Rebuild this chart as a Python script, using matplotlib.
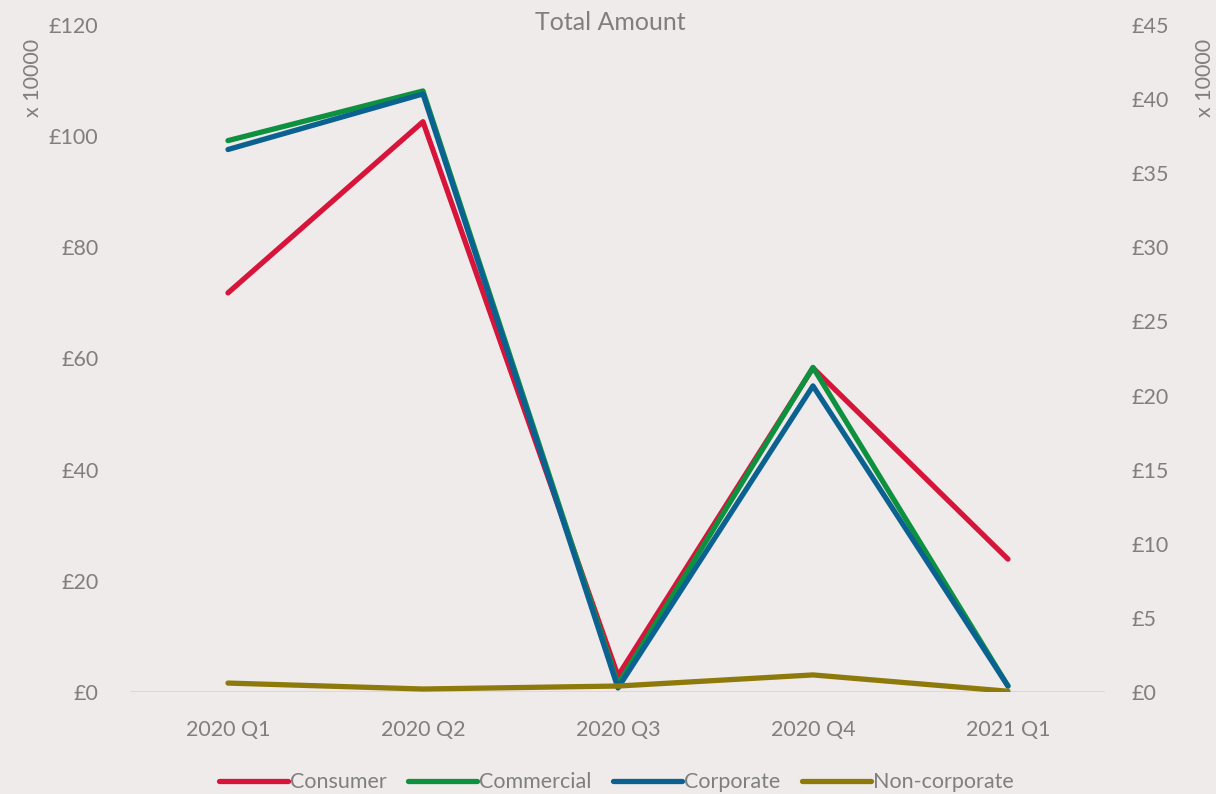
import matplotlib
matplotlib.use("Agg")
import matplotlib.pyplot as plt
from matplotlib.ticker import FuncFormatter

plt.rcParams['font.family'] = ['Lato', 'DejaVu Sans']

quarters = ["2020 Q1", "2020 Q2", "2020 Q3", "2020 Q4", "2021 Q1"]
# left axis (x 10000)
consumer = [71.8, 102.6, 2.9, 58.3, 23.9]
# right axis (x 10000)
commercial = [37.2, 40.55, 0.5, 21.9, 0.4]
corporate = [36.6, 40.35, 0.27, 20.65, 0.4]
non_corporate = [0.6, 0.2, 0.4, 1.15, 0.05]

bg = "#EFEBEA"
grey = "#7F7F7F"
colors = {"Consumer": "#D7153A", "Commercial": "#0E913F",
          "Corporate": "#0B6291", "Non-corporate": "#8E7A0B"}

fig = plt.figure(figsize=(12.16, 7.94), dpi=100, facecolor=bg)
ax = fig.add_axes([0.1073, 0.1285, 0.8018, 0.84])
ax.set_facecolor(bg)
ax2 = ax.twinx()

x = list(range(len(quarters)))
lw = 3.8
l1, = ax.plot(x, consumer, color=colors["Consumer"], lw=lw, solid_capstyle="round", label="Consumer")
l2, = ax2.plot(x, commercial, color=colors["Commercial"], lw=lw, solid_capstyle="round", label="Commercial")
l3, = ax2.plot(x, corporate, color=colors["Corporate"], lw=lw, solid_capstyle="round", label="Corporate")
l4, = ax2.plot(x, non_corporate, color=colors["Non-corporate"], lw=lw, solid_capstyle="round", label="Non-corporate")

ax.set_xlim(-0.5, len(quarters) - 0.5)
ax.set_ylim(0, 120)
ax2.set_ylim(0, 45)
ax.set_yticks(range(0, 121, 20))
ax2.set_yticks(range(0, 46, 5))
ax.yaxis.set_major_formatter(FuncFormatter(lambda v, p: f"£{v:.0f}"))
ax2.yaxis.set_major_formatter(FuncFormatter(lambda v, p: f"£{v:.0f}"))
ax.set_xticks(x)
ax.set_xticklabels(quarters)

for a in (ax, ax2):
    for s in a.spines.values():
        s.set_visible(False)
    a.tick_params(length=0, colors=grey, labelsize=15.5)
ax.tick_params(axis="y", pad=23)
ax2.tick_params(axis="y", pad=19)
ax.tick_params(axis="x", pad=20)
ax.axhline(0, color="#D9D9D9", lw=1.5, zorder=0)

fig.text(0.027, 0.902, "x 10000", rotation=90, color=grey, fontsize=15.5, ha="center", va="center")
fig.text(0.991, 0.902, "x 10000", rotation=90, color=grey, fontsize=15.5, ha="center", va="center")
fig.text(0.502, 0.972, "Total Amount", color=grey, fontsize=18, ha="center", va="center")

fig.legend(handles=[l1, l2, l3, l4], loc="center", bbox_to_anchor=(0.507, 0.015),
           ncol=4, frameon=False, fontsize=15.5, handlelength=3.2, handletextpad=0.1,
           columnspacing=1.0, labelcolor=grey)

fig.savefig("out.png", dpi=100, facecolor=bg)
